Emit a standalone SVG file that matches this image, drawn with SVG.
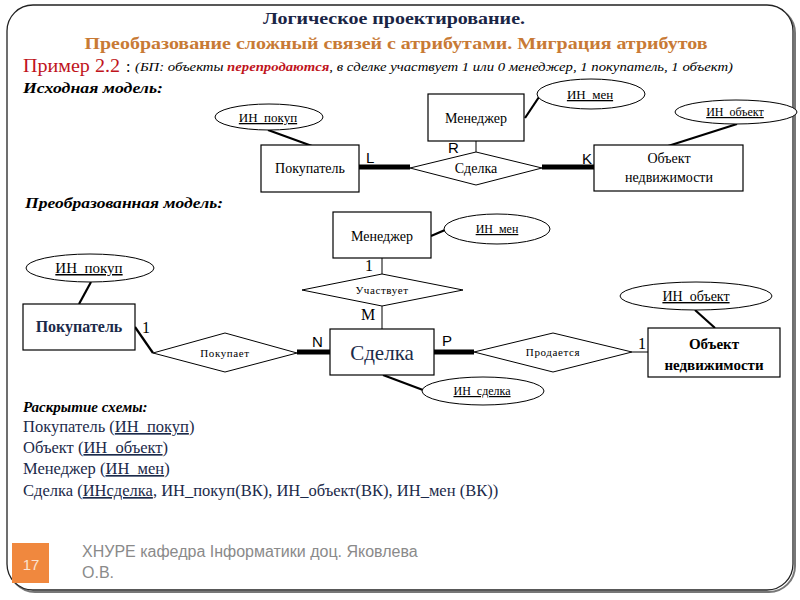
<svg xmlns="http://www.w3.org/2000/svg" width="800" height="600" viewBox="0 0 800 600">
<style>
.ent{fill:#fff;stroke:#000;stroke-width:1.2}
.rel{fill:#fff;stroke:#000;stroke-width:1}
.att{fill:#fff;stroke:#000;stroke-width:1}
.t{font-family:Liberation Serif, DejaVu Serif, serif;fill:#000;text-anchor:middle}
.sf{font-family:Liberation Serif, DejaVu Serif, serif;fill:#000}
.s{font-family:Liberation Sans, DejaVu Sans, sans-serif;fill:#000}
.u{text-decoration:underline}
.c1{stroke:#000;stroke-width:1;fill:none}
.c2{stroke:#000;stroke-width:2.2;fill:none}
.c5{stroke:#000;stroke-width:5;fill:none}
.nv{fill:#1b2a4a}
</style>
<rect width="800" height="600" fill="#fff"/>
<rect x="9" y="7" width="786" height="585" rx="26" fill="none" stroke="#777" stroke-width="2"/>
<rect x="7" y="5" width="786" height="585" rx="26" fill="#fff" stroke="#222" stroke-width="1.3"/>

<g id="header">
<text x="394" y="24" font-family="Liberation Serif, serif" text-anchor="middle" font-size="17" font-weight="bold" fill="#1a2545" textLength="262" lengthAdjust="spacingAndGlyphs">Логическое проектирование.</text>
<text x="396" y="49" font-family="Liberation Serif, serif" text-anchor="middle" font-size="17" font-weight="bold" fill="#c87a35" textLength="623" lengthAdjust="spacingAndGlyphs">Преобразование сложный связей с атрибутами. Миграция атрибутов</text>
<text x="23" y="72" font-family="Liberation Serif, serif" font-size="18" fill="#c0141c" textLength="97" lengthAdjust="spacingAndGlyphs">Пример 2.2</text>
<text x="126" y="72" font-family="Liberation Serif, serif" font-size="16" fill="#000">:</text>
<text x="135" y="71" font-family="Liberation Serif, serif" font-style="italic" font-size="13" fill="#000" textLength="598" lengthAdjust="spacingAndGlyphs">(БП: объекты <tspan fill="#c0141c" font-weight="bold">перепродаются</tspan>, в сделке участвует 1 или 0 менеджер, 1 покупатель, 1 объект)</text>
<text x="23" y="93" font-family="Liberation Serif, serif" font-style="italic" font-weight="bold" font-size="15" fill="#000" textLength="140" lengthAdjust="spacingAndGlyphs">Исходная модель:</text>
<text x="25" y="208" font-family="Liberation Serif, serif" font-style="italic" font-weight="bold" font-size="15" fill="#000" textLength="198" lengthAdjust="spacingAndGlyphs">Преобразованная модель:</text>
</g>

<g id="connectors">
<line class="c2" x1="268" y1="130" x2="312" y2="146"/>
<line class="c5" x1="359" y1="167" x2="410" y2="167"/>
<line class="c1" x1="476" y1="141" x2="476" y2="152"/>
<line class="c5" x1="542" y1="167" x2="594" y2="167"/>
<line class="c2" x1="525" y1="118" x2="539" y2="97"/>
<line class="c2" x1="737" y1="124" x2="668" y2="146"/>
<line class="c2" x1="91" y1="282" x2="79" y2="304"/>
<line class="c2" x1="135" y1="327" x2="153" y2="353"/>
<line class="c5" x1="297" y1="352" x2="330" y2="352"/>
<line class="c1" x1="382" y1="258" x2="382" y2="274"/>
<line class="c1" x1="382" y1="306" x2="382" y2="329"/>
<line class="c2" x1="431" y1="236" x2="445" y2="230"/>
<line class="c5" x1="434" y1="352" x2="474" y2="352"/>
<line class="c1" x1="632" y1="352" x2="648" y2="352"/>
<line class="c2" x1="695" y1="310" x2="715" y2="328"/>
<line class="c2" x1="383" y1="375" x2="423" y2="390"/>
<text x="366" y="163" class="s" font-size="15">L</text>
<text x="448" y="153" class="s" font-size="15">R</text>
<text x="582" y="164" class="s" font-size="15">K</text>
<text x="142" y="333" class="sf" font-size="16">1</text>
<text x="312" y="347" class="s" font-size="15">N</text>
<text x="365" y="271" class="sf" font-size="16">1</text>
<text x="361" y="320" class="sf" font-size="16">M</text>
<text x="442" y="346" class="s" font-size="15">P</text>
<text x="638" y="349" class="sf" font-size="16">1</text>
</g>

<g id="orig-ИН_покуп"><ellipse class="att" cx="269" cy="117" rx="54" ry="13"/><text x="268" y="122" class="t u" font-size="13">ИН_покуп</text></g>
<g id="orig-Покупатель"><rect class="ent" x="261" y="145" width="98" height="47"/><text x="310" y="173" class="t" font-size="14">Покупатель</text></g>
<g id="orig-Менеджер"><rect class="ent" x="428" y="94" width="96" height="47"/><text x="476" y="123" class="t" font-size="14">Менеджер</text></g>
<g id="orig-ИН_мен"><ellipse class="att" cx="591" cy="94" rx="54" ry="15"/><text x="590" y="99" class="t u" font-size="13">ИН_мен</text></g>
<g id="orig-Сделка"><polygon class="rel" points="410,168 476,152 542,168 476,185"/><text x="476" y="173" class="t" font-size="14">Сделка</text></g>
<g id="orig-Объект"><rect class="ent" x="594" y="145" width="149" height="46"/><text x="669" y="163" class="t" font-size="14">Объект</text><text x="669" y="182" class="t" font-size="14">недвижимости</text></g>
<g id="orig-ИН_объект"><ellipse class="att" cx="736" cy="112" rx="61" ry="12"/><text x="735" y="116" class="t u" font-size="12">ИН_объект</text></g>

<g id="ИН_покуп"><ellipse class="att" cx="90" cy="268" rx="64" ry="14"/><text x="89" y="273" class="t u" font-size="15">ИН_покуп</text></g>
<g id="Покупатель"><rect class="ent" x="23" y="304" width="112" height="46"/><text x="79" y="332" class="t nv" font-size="16" font-weight="bold">Покупатель</text></g>
<g id="Покупает"><polygon class="rel" points="153,353 225,333 297,353 225,372"/><text x="225" y="357" class="t" font-size="11" letter-spacing="0.6">Покупает</text></g>
<g id="Менеджер"><rect class="ent" x="333" y="212" width="98" height="46"/><text x="382" y="241" class="t" font-size="14">Менеджер</text></g>
<g id="ИН_мен"><ellipse class="att" cx="497" cy="229" rx="53" ry="15"/><text x="497" y="233" class="t u" font-size="12">ИН_мен</text></g>
<g id="Участвует"><polygon class="rel" points="302,290 382,274 463,290 382,306"/><text x="382" y="294" class="t" font-size="11" letter-spacing="0.6">Участвует</text></g>
<g id="Сделка"><rect class="ent" x="330" y="329" width="104" height="46"/><text x="382" y="360" class="t nv" font-size="21">Сделка</text></g>
<g id="ИН_сделка"><ellipse class="att" cx="483" cy="391" rx="61" ry="14"/><text x="482" y="395" class="t u" font-size="12">ИН_сделка</text></g>
<g id="Продается"><polygon class="rel" points="474,352 553,333 632,352 553,372"/><text x="553" y="356" class="t" font-size="11" letter-spacing="0.6">Продается</text></g>
<g id="Объект"><rect class="ent" x="648" y="328" width="132" height="49"/><text x="714" y="349" class="t" font-size="15" font-weight="bold">Объект</text><text x="714" y="370" class="t" font-size="15" font-weight="bold">недвижимости</text></g>
<g id="ИН_объект"><ellipse class="att" cx="696" cy="296" rx="76" ry="14"/><text x="696" y="301" class="t u" font-size="14">ИН_объект</text></g>

<g id="schema" font-family="Liberation Serif, serif" font-size="16.5">
<text x="23" y="412" font-style="italic" font-weight="bold" font-size="15" fill="#000">Раскрытие схемы:</text>
<text x="23" y="432" class="nv">Покупатель (<tspan class="u">ИН_покуп</tspan>)</text>
<text x="23" y="453" class="nv">Объект (<tspan class="u">ИН_объект</tspan>)</text>
<text x="23" y="474" class="nv">Менеджер (<tspan class="u">ИН_мен</tspan>)</text>
<text x="23" y="496" class="nv">Сделка (<tspan class="u">ИНсделка</tspan>, ИН_покуп(ВК), ИН_объект(ВК), ИН_мен (ВК))</text>
</g>

<g id="footer">
<rect x="12" y="543" width="37" height="40" fill="#f0883e"/>
<text x="31" y="570" font-family="Liberation Sans, sans-serif" font-size="15" fill="#fbe3d2" text-anchor="middle">17</text>
<text x="82" y="557" font-family="Liberation Sans, sans-serif" font-size="16" fill="#8a8a8a">ХНУРЕ кафедра Інформатики доц. Яковлева</text>
<text x="82" y="578" font-family="Liberation Sans, sans-serif" font-size="16" fill="#8a8a8a">О.В.</text>
</g>
</svg>
